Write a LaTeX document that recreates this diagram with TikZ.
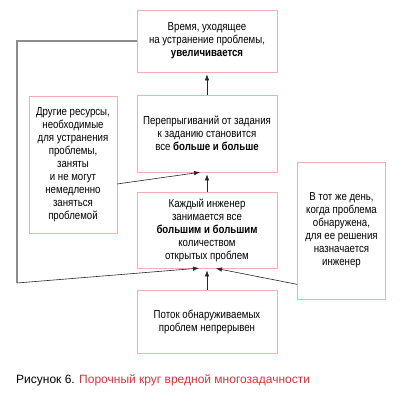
\documentclass[tikz,border=0pt]{standalone}
\usepackage{fontspec}
\setmainfont{Liberation Sans}
\newfontfamily\narrowfont{Liberation Sans}[FakeStretch=0.84]
\usetikzlibrary{arrows.meta}
\definecolor{boxpink}{RGB}{240,175,180}
\definecolor{capred}{RGB}{228,45,55}
\definecolor{loopgray}{RGB}{140,140,140}
\tikzset{
  box/.style={draw=boxpink, line width=0.7pt, rectangle, align=center, inner sep=0pt,
    font=\narrowfont\fontsize{11.5}{13}\selectfont},
  conn/.style={draw=black!85, line width=0.6pt, -{Latex[length=6pt,width=4.5pt]}, shorten >=2pt},
  loopline/.style={draw=loopgray, line width=1.2pt},
}
\begin{document}
\begin{tikzpicture}[x=1pt,y=-1pt]
\useasboundingbox (0,0) rectangle (400,401);
\node[box, minimum width=140pt, minimum height=62pt] (top) at (207,41)
  {Время, уходящее\\на устранение проблемы,\\\textbf{увеличивается}};
\node[box, minimum width=140pt, minimum height=77pt] (mid) at (207,133.5)
  {Перепрыгиваний от задания\\к заданию становится\\все \textbf{больше и больше}};
\node[box, minimum width=140pt, minimum height=76pt] (low) at (207,230)
  {Каждый инженер\\занимается все\\\textbf{большим и большим}\\количеством\\открытых проблем};
\node[box, minimum width=140pt, minimum height=63pt] (bot) at (207,321.5)
  {Поток обнаруживаемых\\проблем непрерывен};
\node[box, minimum width=88pt, minimum height=137pt] (left) at (73,165)
  {Другие ресурсы,\\необходимые\\для устранения\\проблемы,\\заняты\\и не могут\\немедленно\\заняться\\проблемой};
\node[box, minimum width=88pt, minimum height=137pt] (right) at (341.5,230.5)
  {В тот же день,\\когда проблема\\обнаружена,\\для ее решения\\назначается\\инженер};
\coordinate (lc1) at (17,41);
\coordinate (lc2) at (17,283);
\coordinate (lowin1) at (201,268);
\coordinate (lowin2) at (214,268);
\coordinate (midin) at (202,172);
\coordinate (rightout) at ([yshift=15pt]right.south west);
\coordinate (leftout) at (117,184);
% connectors
\draw[conn] (mid.north) -- (top.south);
\draw[conn] (low.north) -- (mid.south);
\draw[conn] (bot.north) -- (low.south);
\draw[conn] (leftout) -- (midin);
\draw[conn] (rightout) -- (lowin2);
\draw[loopline] (top.west) -- (lc1) -- (lc2);
\draw[conn] (lc2) -- (lowin1);
% caption
\node[anchor=west, inner sep=0pt, font=\fontsize{12}{14}\selectfont] (cap) at (16,380)
  {Рисунок 6. \textcolor{capred}{Порочный круг вредной многозадачности}};
\end{tikzpicture}
\end{document}
